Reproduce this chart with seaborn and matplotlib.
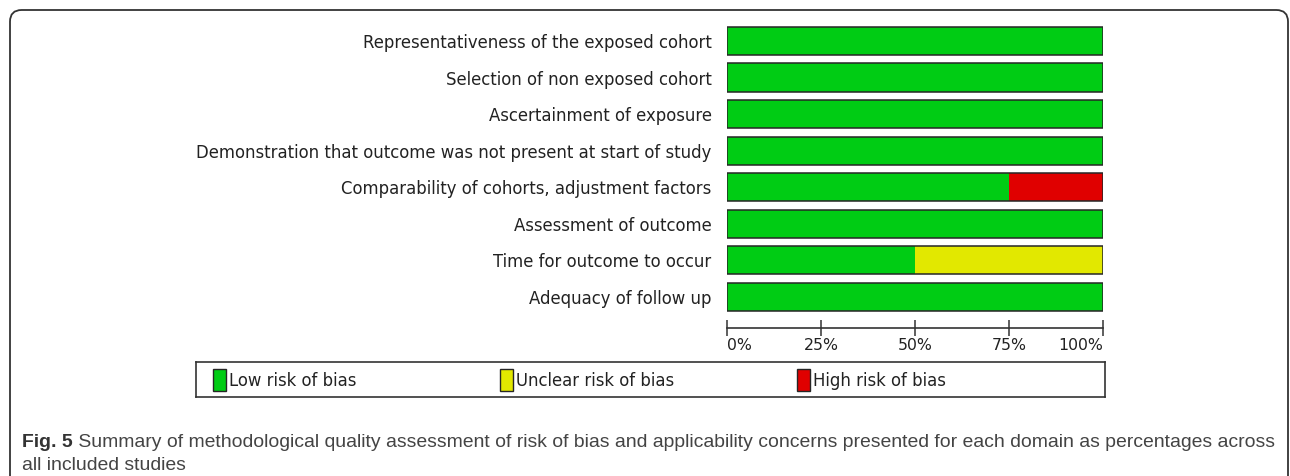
import matplotlib
matplotlib.use("Agg")
import matplotlib.pyplot as plt
from matplotlib.patches import FancyBboxPatch, Rectangle
from matplotlib import font_manager
import seaborn as sns
import pandas as pd

# ---- data ----
domains = [
    "Representativeness of the exposed cohort",
    "Selection of non exposed cohort",
    "Ascertainment of exposure",
    "Demonstration that outcome was not present at start of study",
    "Comparability of cohorts, adjustment factors",
    "Assessment of outcome",
    "Time for outcome to occur",
    "Adequacy of follow up",
]
low_risk = [100, 100, 100, 100, 75, 100, 50, 100]
unclear_risk = [0, 0, 0, 0, 0, 0, 50, 0]
high_risk = [0, 0, 0, 0, 25, 0, 0, 0]
tick_values = [0, 25, 50, 75, 100]
tick_labels = ["0%", "25%", "50%", "75%", "100%"]
legend_labels = ["Low risk of bias", "Unclear risk of bias", "High risk of bias"]
caption_bold = "Fig. 5"
caption_line1 = " Summary of methodological quality assessment of risk of bias and applicability concerns presented for each domain as percentages across"
caption_line2 = "all included studies"

GREEN = "#00cc14"
YELLOW = "#e2e800"
RED = "#e00000"
EDGE = "#262626"

sns.set_theme(style="white")
plt.rcParams["font.family"] = ["DejaVu Sans"]

W, H = 1290, 476
fig = plt.figure(figsize=(W / 100, H / 100), dpi=100)

df = pd.DataFrame({
    "domain": domains,
    "low": low_risk,
    "low_unclear": [a + b for a, b in zip(low_risk, unclear_risk)],
    "total": [a + b + c for a, b, c in zip(low_risk, unclear_risk, high_risk)],
})

def px(x0, y0, x1, y1):
    return [x0 / W, 1 - y1 / H, (x1 - x0) / W, (y1 - y0) / H]

LABEL_SIZE = 11.9

ax = fig.add_axes(px(727, 22.7, 1103, 328))
bw = 0.77
sns.barplot(data=df, x="total", y="domain", orient="h", color=RED, saturation=1,
            width=bw, edgecolor="none", linewidth=0, ax=ax)
sns.barplot(data=df, x="low_unclear", y="domain", orient="h", color=YELLOW, saturation=1,
            width=bw, edgecolor="none", linewidth=0, ax=ax)
sns.barplot(data=df, x="low", y="domain", orient="h", color=GREEN, saturation=1,
            width=bw, edgecolor="none", linewidth=0, ax=ax)
sns.barplot(data=df, x="total", y="domain", orient="h", color=GREEN, saturation=1,
            width=bw, facecolor="none", edgecolor=EDGE, linewidth=1.1, ax=ax)

ax.set_xlim(0, 100)
ax.set_ylim(7.85, -0.5)
ax.set_xlabel("")
ax.set_ylabel("")
for s in ["top", "right", "left"]:
    ax.spines[s].set_visible(False)
ax.spines["bottom"].set_color("#333333")
ax.spines["bottom"].set_linewidth(1.2)
ax.set_xticks(tick_values)
ax.set_xticklabels(tick_labels)
ax.tick_params(axis="x", direction="inout", length=11, width=1.1, color="#333333",
               labelsize=11.3, pad=2, labelcolor="#222222", bottom=True)
ax.tick_params(axis="y", length=0, pad=11, labelsize=LABEL_SIZE, labelcolor="#222222")
xl = ax.get_xticklabels()
xl[0].set_ha("left")
xl[-1].set_ha("right")
ax.grid(False)

# ---- legend box ----
leg_ax = fig.add_axes(px(196, 362, 1105, 397))
leg_ax.set_xlim(196, 1105)
leg_ax.set_ylim(397, 362)
leg_ax.set_xticks([])
leg_ax.set_yticks([])
for s in leg_ax.spines.values():
    s.set_color("#333333")
    s.set_linewidth(1.2)
leg_colors = [GREEN, YELLOW, RED]
leg_x = [213, 500, 797]
for lx, c, lab in zip(leg_x, leg_colors, legend_labels):
    leg_ax.add_patch(Rectangle((lx, 369), 13, 22, facecolor=c, edgecolor=EDGE, linewidth=1))
    leg_ax.text(lx + 16, 381, lab, ha="left", va="center", fontsize=LABEL_SIZE, color="#222222")

# ---- outer frame ----
frame = FancyBboxPatch((10 / W, 1 - 520 / H), (1288 - 10) / W, (520 - 10) / H,
                       boxstyle="round,pad=0,rounding_size=0.009",
                       transform=fig.transFigure, facecolor="none",
                       edgecolor="#333333", linewidth=1.3, mutation_aspect=W / H)
fig.add_artist(frame)

# ---- caption ----
cap_fam = "Liberation Sans Narrow"
try:
    font_manager.findfont(cap_fam, fallback_to_default=False)
except Exception:
    cap_fam = "Liberation Sans"
cap_size = 13.95
t1 = fig.text(22 / W, 1 - 447 / H, caption_bold, fontsize=cap_size, fontweight="bold",
              family=cap_fam, color="#333333", va="baseline", ha="left")
fig.canvas.draw()
bb = t1.get_window_extent()
fig.text(bb.x1 / W, 1 - 447 / H, caption_line1, fontsize=cap_size, family=cap_fam,
         color="#444444", va="baseline", ha="left")
fig.text(22 / W, 1 - 470 / H, caption_line2, fontsize=cap_size, family=cap_fam,
         color="#444444", va="baseline", ha="left")

fig.savefig("out.png", dpi=100)
